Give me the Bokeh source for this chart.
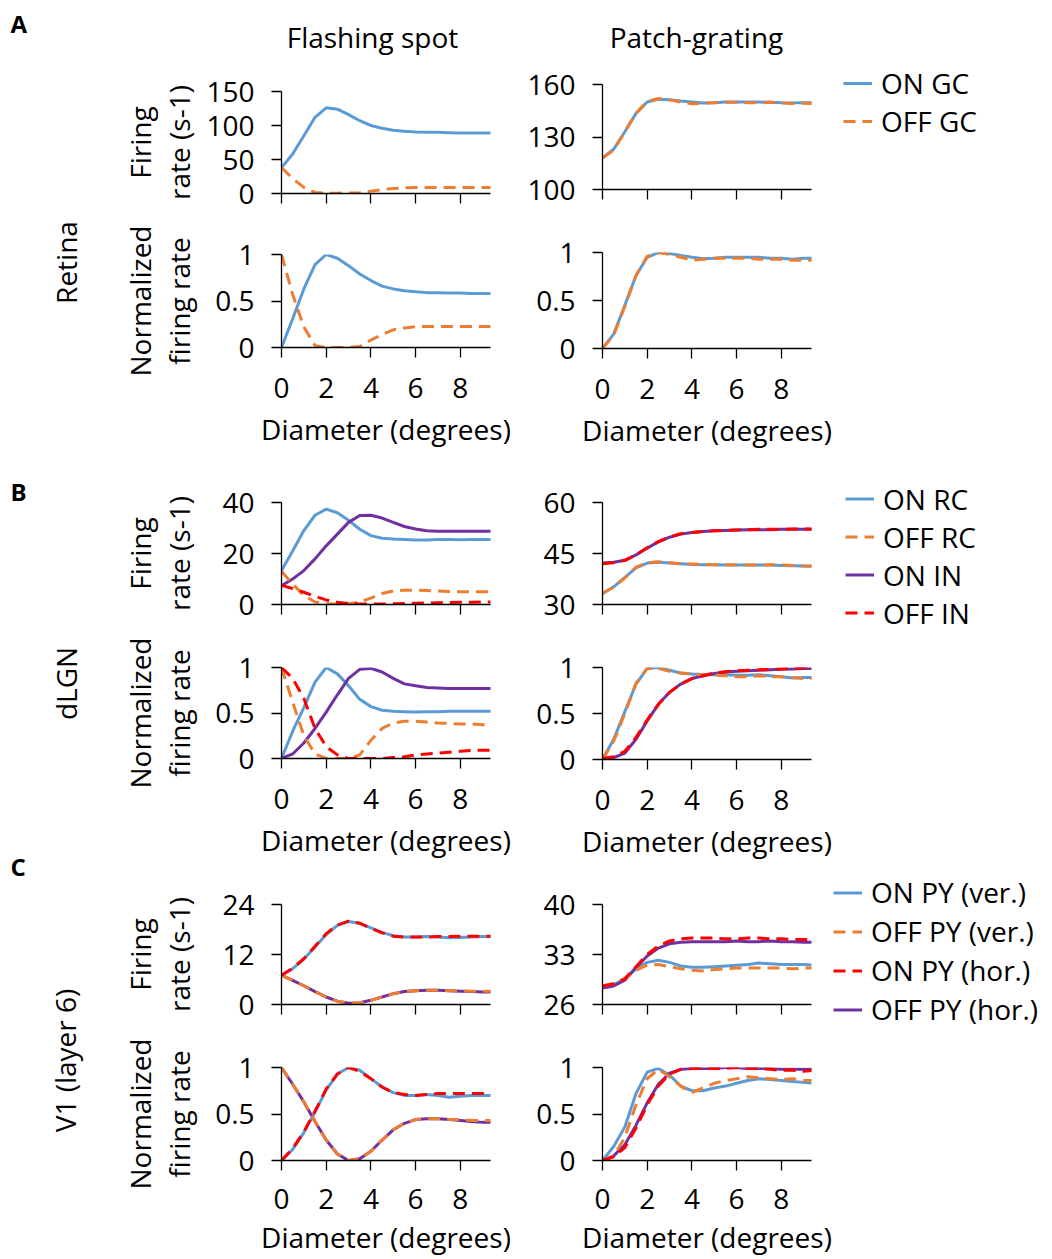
import numpy as np
from bokeh.plotting import figure
from bokeh.layouts import row, column
from bokeh.models import Range1d, FixedTicker, NumeralTickFormatter, Label, Legend, LegendItem
from bokeh.embed import file_html
from bokeh.resources import INLINE

# ------------------------------------------------------------------ data
diameter = [0.0, 0.5, 1.0, 1.5, 2.0, 2.5, 3.0, 3.5, 4.0, 4.5,
            5.0, 5.5, 6.0, 6.5, 7.0, 7.5, 8.0, 8.5, 9.0, 9.5]
x_ticks = [0, 2, 4, 6, 8]
x_label = "Diameter (degrees)"
col_titles = ["Flashing spot", "Patch-grating"]
row_names = ["Retina", "dLGN", "V1 (layer 6)"]
panel_letters = ["A", "B", "C"]
rate_label = ["Firing", "rate (s-1)"]
norm_label = ["Normalized", "firing rate"]
retina_series = ["ON GC", "OFF GC"]
lgn_series = ["ON RC", "OFF RC", "ON IN", "OFF IN"]
v1_series = ["ON PY (ver.)", "OFF PY (ver.)", "ON PY (hor.)", "OFF PY (hor.)"]

# A  Retina
retina_spot_on_rate = [38, 58, 85, 112, 126, 124, 116, 107, 100, 96, 93, 91.5, 90.5, 90, 90, 89.5, 89, 89, 89, 89]
retina_spot_off_rate = [38, 22, 9, 1.5, 0.5, 0.5, 0.8, 1.0, 3.5, 5.7, 7.5, 8.3, 9, 9, 9, 9, 9, 9, 9, 9]
retina_spot_on_norm = [0, 0.31, 0.63, 0.89, 1.0, 0.96, 0.88, 0.79, 0.72, 0.66, 0.63, 0.61, 0.6, 0.59, 0.59, 0.585, 0.585, 0.58, 0.58, 0.58]
retina_spot_off_norm = [1.0, 0.57, 0.22, 0.02, 0, 0, 0, 0.01, 0.08, 0.14, 0.19, 0.21, 0.225, 0.225, 0.225, 0.225, 0.225, 0.225, 0.225, 0.225]
retina_grating_on_rate = [118, 123, 133, 143.5, 150, 151.6, 151.3, 150.6, 150, 149.4, 149.6, 150, 150, 150, 150, 149.8, 149.6, 149.5, 149.6, 149.6]
retina_grating_off_rate = [118, 122.5, 133, 143.5, 150.3, 152, 151.2, 150, 149, 149.3, 149.6, 149.8, 149.8, 149.6, 149.5, 149.8, 149.4, 149.2, 149.3, 149]
retina_grating_on_norm = [0, 0.15, 0.45, 0.76, 0.95, 1.0, 0.99, 0.97, 0.95, 0.935, 0.94, 0.95, 0.95, 0.95, 0.95, 0.94, 0.94, 0.93, 0.94, 0.94]
retina_grating_off_norm = [0, 0.14, 0.44, 0.76, 0.96, 1.0, 0.98, 0.95, 0.92, 0.93, 0.94, 0.94, 0.94, 0.94, 0.93, 0.93, 0.93, 0.92, 0.92, 0.92]

# B  dLGN
lgn_spot_on_rc_rate = [13.3, 21, 29, 35, 37.4, 36, 33, 29.5, 27, 26, 25.7, 25.5, 25.3, 25.3, 25.5, 25.5, 25.4, 25.5, 25.5, 25.5]
lgn_spot_off_rc_rate = [13, 8, 3.5, 1, 0.3, 0.2, 0.3, 1, 2.5, 4.3, 5.3, 5.6, 5.6, 5.5, 5.3, 5.1, 5, 5, 5, 5]
lgn_spot_on_in_rate = [7.4, 10, 13.3, 17.9, 23, 27.6, 32.2, 34.9, 35.0, 33.9, 32.2, 30.6, 29.6, 28.9, 28.7, 28.7, 28.7, 28.7, 28.7, 28.7]
lgn_spot_off_in_rate = [7.5, 6.3, 4.8, 3.2, 1.8, 0.9, 0.4, 0.2, 0.2, 0.2, 0.3, 0.4, 0.5, 0.6, 0.7, 0.8, 0.9, 0.9, 1.0, 1.0]
lgn_spot_on_rc_norm = [0, 0.3, 0.56, 0.84, 1.0, 0.93, 0.8, 0.65, 0.57, 0.53, 0.52, 0.515, 0.51, 0.515, 0.515, 0.52, 0.52, 0.52, 0.52, 0.52]
lgn_spot_off_rc_norm = [1, 0.62, 0.25, 0.05, 0, 0, 0, 0.04, 0.2, 0.33, 0.39, 0.41, 0.41, 0.4, 0.39, 0.385, 0.38, 0.38, 0.37, 0.37]
lgn_spot_on_in_norm = [0, 0.05, 0.17, 0.33, 0.51, 0.7, 0.88, 0.98, 0.99, 0.95, 0.88, 0.82, 0.8, 0.78, 0.775, 0.77, 0.77, 0.77, 0.77, 0.77]
lgn_spot_off_in_norm = [1, 0.88, 0.66, 0.33, 0.13, 0.04, 0, 0, 0, 0, 0.01, 0.02, 0.04, 0.05, 0.06, 0.07, 0.08, 0.09, 0.09, 0.09]
lgn_grating_on_rc_rate = [33.2, 35.2, 38.0, 40.8, 42.2, 42.4, 42.2, 42.0, 41.8, 41.7, 41.7, 41.6, 41.6, 41.6, 41.6, 41.6, 41.5, 41.4, 41.3, 41.3]
lgn_grating_off_rc_rate = [33.3, 35.1, 37.8, 41.0, 42.3, 42.6, 42.3, 42.0, 41.9, 41.8, 41.7, 41.7, 41.6, 41.6, 41.6, 41.7, 41.6, 41.5, 41.3, 41.2]
lgn_grating_on_in_rate = [42.2, 42.4, 43.0, 44.6, 46.6, 48.4, 49.8, 50.7, 51.2, 51.5, 51.7, 51.8, 51.9, 52.0, 52.0, 52.0, 52.1, 52.1, 52.1, 52.1]
lgn_grating_off_in_rate = [42.0, 42.3, 43.0, 44.6, 46.7, 48.5, 49.9, 50.8, 51.2, 51.5, 51.7, 51.8, 51.9, 52.0, 52.1, 52.1, 52.1, 52.2, 52.2, 52.2]
lgn_grating_on_rc_norm = [0, 0.22, 0.52, 0.82, 0.99, 1.0, 0.97, 0.94, 0.93, 0.925, 0.92, 0.92, 0.915, 0.915, 0.92, 0.91, 0.9, 0.885, 0.89, 0.89]
lgn_grating_off_rc_norm = [0, 0.2, 0.5, 0.83, 0.99, 0.99, 0.96, 0.94, 0.93, 0.92, 0.92, 0.91, 0.9, 0.9, 0.91, 0.9, 0.9, 0.89, 0.88, 0.88]
lgn_grating_on_in_norm = [0, 0.02, 0.07, 0.22, 0.42, 0.6, 0.73, 0.82, 0.88, 0.91, 0.935, 0.95, 0.96, 0.965, 0.97, 0.975, 0.98, 0.985, 0.99, 0.99]
lgn_grating_off_in_norm = [0.01, 0.03, 0.09, 0.24, 0.43, 0.6, 0.73, 0.82, 0.88, 0.91, 0.94, 0.955, 0.965, 0.97, 0.975, 0.98, 0.985, 0.99, 1.0, 0.995]

# C  V1 (layer 6)
v1_spot_on_ver_rate = [7, 8.6, 10.9, 13.8, 16.8, 19.0, 19.9, 19.5, 18.4, 17.3, 16.5, 16.2, 16.2, 16.3, 16.2, 16.0, 16.1, 16.2, 16.3, 16.3]
v1_spot_off_ver_rate = [7, 5.8, 4.5, 3.1, 1.8, 0.8, 0.3, 0.4, 1.0, 1.8, 2.6, 3.1, 3.3, 3.4, 3.4, 3.3, 3.3, 3.2, 3.2, 3.2]
v1_spot_on_hor_rate = [7, 8.7, 11.0, 14.0, 17.0, 19.1, 20.0, 19.5, 18.3, 17.2, 16.4, 16.2, 16.2, 16.2, 16.3, 16.3, 16.4, 16.4, 16.4, 16.4]
v1_spot_off_hor_rate = [7, 5.8, 4.5, 3.1, 1.8, 0.8, 0.3, 0.4, 1.0, 1.8, 2.6, 3.1, 3.3, 3.4, 3.4, 3.3, 3.2, 3.1, 3.0, 3.0]
v1_spot_on_ver_norm = [0, 0.12, 0.3, 0.52, 0.76, 0.93, 1.0, 0.97, 0.88, 0.79, 0.73, 0.7, 0.7, 0.71, 0.7, 0.68, 0.69, 0.7, 0.7, 0.7]
v1_spot_off_ver_norm = [1, 0.82, 0.63, 0.42, 0.22, 0.07, 0, 0.02, 0.1, 0.22, 0.33, 0.4, 0.44, 0.45, 0.45, 0.44, 0.44, 0.43, 0.43, 0.43]
v1_spot_on_hor_norm = [0, 0.13, 0.31, 0.53, 0.77, 0.93, 1.0, 0.96, 0.88, 0.79, 0.73, 0.71, 0.7, 0.71, 0.72, 0.72, 0.72, 0.72, 0.72, 0.72]
v1_spot_off_hor_norm = [1, 0.82, 0.63, 0.42, 0.22, 0.07, 0, 0.02, 0.1, 0.22, 0.33, 0.4, 0.44, 0.45, 0.45, 0.44, 0.43, 0.42, 0.41, 0.41]
v1_grating_on_ver_rate = [28.5, 28.8, 29.6, 31.0, 31.9, 32.2, 31.9, 31.4, 31.2, 31.2, 31.3, 31.4, 31.5, 31.6, 31.8, 31.7, 31.6, 31.6, 31.6, 31.5]
v1_grating_off_ver_rate = [28.6, 28.9, 29.6, 30.8, 31.5, 31.6, 31.3, 31.0, 30.8, 30.7, 30.9, 31.0, 31.1, 31.1, 31.1, 31.1, 31.1, 31.0, 31.1, 31.1]
v1_grating_on_hor_rate = [28.6, 28.9, 29.6, 31.3, 33.0, 34.2, 34.9, 35.2, 35.3, 35.3, 35.3, 35.2, 35.2, 35.3, 35.3, 35.2, 35.2, 35.1, 35.1, 35.0]
v1_grating_off_hor_rate = [28.3, 28.6, 29.4, 31.2, 32.8, 33.9, 34.5, 34.7, 34.8, 34.8, 34.8, 34.8, 34.9, 34.8, 34.8, 34.9, 34.8, 34.8, 34.7, 34.7]
v1_grating_on_ver_norm = [0, 0.15, 0.36, 0.72, 0.95, 0.99, 0.92, 0.8, 0.75, 0.75, 0.78, 0.8, 0.83, 0.86, 0.88, 0.87, 0.86, 0.85, 0.84, 0.83]
v1_grating_off_ver_norm = [0, 0.05, 0.25, 0.6, 0.88, 0.98, 0.9, 0.8, 0.73, 0.78, 0.83, 0.86, 0.88, 0.9, 0.89, 0.88, 0.87, 0.88, 0.86, 0.86]
v1_grating_on_hor_norm = [0, 0.04, 0.14, 0.35, 0.6, 0.8, 0.93, 0.98, 0.99, 0.99, 0.99, 0.99, 1.0, 0.99, 0.99, 0.98, 0.97, 0.97, 0.96, 0.97]
v1_grating_off_hor_norm = [0, 0.05, 0.17, 0.38, 0.62, 0.82, 0.94, 0.98, 0.99, 0.99, 0.99, 1.0, 1.0, 0.99, 0.99, 0.99, 0.98, 0.98, 0.98, 0.98]

# y axes
retina_spot_rate_ticks = [0, 50, 100, 150]
retina_grating_rate_ticks = [100, 130, 160]
lgn_spot_rate_ticks = [0, 20, 40]
lgn_grating_rate_ticks = [30, 45, 60]
v1_spot_rate_ticks = [0, 12, 24]
v1_grating_rate_ticks = [26, 33, 40]
norm_ticks = [0, 0.5, 1]

# ------------------------------------------------------------------ styles / layout
FONT = "Open Sans"
FS = "28px"
BLUE, ORANGE, PURPLE, RED = "#5B9BD5", "#ED7D31", "#7030A0", "#FF0000"
DASH = "12 7"
STYLE = {
    "ON GC": (BLUE, None), "OFF GC": (ORANGE, DASH),
    "ON RC": (BLUE, None), "OFF RC": (ORANGE, DASH),
    "ON IN": (PURPLE, None), "OFF IN": (RED, DASH),
    "ON PY (ver.)": (BLUE, None), "OFF PY (ver.)": (ORANGE, DASH),
    "ON PY (hor.)": (RED, DASH), "OFF PY (hor.)": (PURPLE, None),
}
XMAX = 9.35
FRAME_W = 209
HEAD_H = 60
TOTAL_H = 1258
LAB_W = 200
LEG_X0 = 833
COLS = {"L": (200, 281, 315), "R": (515, 602, LEG_X0 - 515)}   # figure left, frame left, figure width
ROWS = [(HEAD_H, 215), (215, 465), (465, 636), (636, 870), (870, 1030), (1030, TOTAL_H)]
FRAMES = {
    "L": [(91, 193), (254, 347), (502, 604), (667, 758), (904, 1004), (1067, 1160)],
    "R": [(84, 189), (252, 348), (502, 604), (667, 759), (904, 1004), (1067, 1160)],
}
XSTAND = {1: (20, 9), 3: (20, 9), 5: (18, 6)}   # tick-label / axis-label standoff
LEGENDS = [  # series, swatch left x, first row centre y, row pitch
    (retina_series, 843, 83, 38),
    (lgn_series, 845, 502, 37),
    (v1_series, 833, 892, 39),
]


def text_fig(w, h, x_left, y_top):
    f = figure(width=w, height=h, x_range=Range1d(x_left, x_left + w),
               y_range=Range1d(y_top + h, y_top),
               min_border_left=0, min_border_right=0, min_border_top=0, min_border_bottom=0,
               x_axis_type=None, y_axis_type=None, output_backend="svg",
               toolbar_location=None, tools="")
    f.outline_line_color = None
    f.background_fill_color = "white"
    f.border_fill_color = "white"
    return f


def add_text(f, x, y, text, size=FS, bold=False, align="center", rotate=False):
    f.add_layout(Label(x=x, y=y, text=text, text_font=FONT, text_font_size=size,
                       text_font_style="bold" if bold else "normal",
                       text_align=align, text_baseline="middle", text_color="black",
                       angle=1.5707963 if rotate else 0))


def build(col, r, yr, yticks, fmt, series, show_x):
    fx0, fl, w = COLS[col]
    top, bot = ROWS[r]
    ft, fb = FRAMES[col][r]
    y0, y1 = yr
    bl = fl - fx0
    br = w - bl - FRAME_W
    p = figure(width=w, height=bot - top,
               min_border_left=bl, min_border_right=br,
               min_border_top=ft - top, min_border_bottom=bot - fb,
               x_range=Range1d(0, XMAX), y_range=Range1d(y0, y1),
               output_backend="svg", toolbar_location=None, tools="")
    p.outline_line_color = None
    p.xgrid.visible = False
    p.ygrid.visible = False
    p.background_fill_color = "white"
    p.border_fill_color = "white"

    xa, ya = p.xaxis[0], p.yaxis[0]
    for ax in (xa, ya):
        ax.axis_line_color = "black"
        ax.axis_line_width = 1.3
        ax.major_tick_line_color = "black"
        ax.major_tick_line_width = 1.3
        ax.major_tick_out = 10
        ax.major_tick_in = 0
        ax.minor_tick_out = 0
        ax.minor_tick_in = 0
        ax.major_label_text_font = FONT
        ax.major_label_text_font_size = FS
        ax.major_label_text_color = "black"
    xa.ticker = FixedTicker(ticks=x_ticks, minor_ticks=[])
    ya.ticker = FixedTicker(ticks=yticks, minor_ticks=[])
    ya.formatter = NumeralTickFormatter(format=fmt)
    ya.major_label_standoff = 17
    if show_x:
        s_tick, s_lab = XSTAND[r]
        xa.major_label_standoff = s_tick
        xa.axis_label = x_label
        xa.axis_label_text_font = FONT
        xa.axis_label_text_font_size = FS
        xa.axis_label_text_font_style = "normal"
        xa.axis_label_text_color = "black"
        xa.axis_label_standoff = s_lab
    else:
        xa.major_label_standoff = 0
        xa.major_label_text_font_size = "0px"
        xa.major_label_overrides = {t: "" for t in x_ticks}

    solid = [s for s in series if STYLE[s[0]][1] is None]
    dashed = [s for s in series if STYLE[s[0]][1] is not None]
    for name, vals in solid + dashed:
        color, dash = STYLE[name]
        p.line(diameter, vals, line_color=color, line_width=3,
               line_dash=dash if dash else "solid")
    return p


left = [
    build("L", 0, (0, 150), retina_spot_rate_ticks, "0",
          list(zip(retina_series, [retina_spot_on_rate, retina_spot_off_rate])), False),
    build("L", 1, (0, 1), norm_ticks, "0.[0]",
          list(zip(retina_series, [retina_spot_on_norm, retina_spot_off_norm])), True),
    build("L", 2, (0, 40), lgn_spot_rate_ticks, "0",
          list(zip(lgn_series, [lgn_spot_on_rc_rate, lgn_spot_off_rc_rate,
                                lgn_spot_on_in_rate, lgn_spot_off_in_rate])), False),
    build("L", 3, (0, 1), norm_ticks, "0.[0]",
          list(zip(lgn_series, [lgn_spot_on_rc_norm, lgn_spot_off_rc_norm,
                                lgn_spot_on_in_norm, lgn_spot_off_in_norm])), True),
    build("L", 4, (0, 24), v1_spot_rate_ticks, "0",
          list(zip(v1_series, [v1_spot_on_ver_rate, v1_spot_off_ver_rate,
                               v1_spot_on_hor_rate, v1_spot_off_hor_rate])), False),
    build("L", 5, (0, 1), norm_ticks, "0.[0]",
          list(zip(v1_series, [v1_spot_on_ver_norm, v1_spot_off_ver_norm,
                               v1_spot_on_hor_norm, v1_spot_off_hor_norm])), True),
]

right = [
    build("R", 0, (100, 160), retina_grating_rate_ticks, "0",
          list(zip(retina_series, [retina_grating_on_rate, retina_grating_off_rate])), False),
    build("R", 1, (0, 1), norm_ticks, "0.[0]",
          list(zip(retina_series, [retina_grating_on_norm, retina_grating_off_norm])), True),
    build("R", 2, (30, 60), lgn_grating_rate_ticks, "0",
          list(zip(lgn_series, [lgn_grating_on_rc_rate, lgn_grating_off_rc_rate,
                                lgn_grating_on_in_rate, lgn_grating_off_in_rate])), False),
    build("R", 3, (0, 1), norm_ticks, "0.[0]",
          list(zip(lgn_series, [lgn_grating_on_rc_norm, lgn_grating_off_rc_norm,
                                lgn_grating_on_in_norm, lgn_grating_off_in_norm])), True),
    build("R", 4, (26, 40), v1_grating_rate_ticks, "0",
          list(zip(v1_series, [v1_grating_on_ver_rate, v1_grating_off_ver_rate,
                               v1_grating_on_hor_rate, v1_grating_off_hor_rate])), False),
    build("R", 5, (0, 1), norm_ticks, "0.[0]",
          list(zip(v1_series, [v1_grating_on_ver_norm, v1_grating_off_ver_norm,
                               v1_grating_on_hor_norm, v1_grating_off_hor_norm])), True),
]

# header: panel letter A and column titles
header = text_fig(1050, HEAD_H, 0, 0)
add_text(header, 10, 23, panel_letters[0], size="24px", bold=True, align="left")
add_text(header, 372, 36, col_titles[0])
add_text(header, 696, 36, col_titles[1])

# left strip: letters B, C, row names, y-axis titles
strip = text_fig(LAB_W, TOTAL_H - HEAD_H, 0, HEAD_H)
add_text(strip, 10, 491, panel_letters[1], size="24px", bold=True, align="left")
add_text(strip, 10, 866, panel_letters[2], size="24px", bold=True, align="left")
for name, cx, cy in zip(row_names, (65, 65, 64), (262, 683, 1060)):
    add_text(strip, cx, cy, name, rotate=True)
for i, (ft, fb) in enumerate(FRAMES["L"]):
    lines = rate_label if i % 2 == 0 else norm_label
    mid = (ft + fb) / 2
    add_text(strip, 139, mid, lines[0], rotate=True)
    add_text(strip, 178, mid, lines[1], rotate=True)

# legend column (one legend per region; swatch renderers carry no visible points)
legfig = text_fig(1050 - LEG_X0, TOTAL_H - HEAD_H, LEG_X0, HEAD_H)
no_point = np.array([np.nan, np.nan])
for names, gx, first_cy, pitch in LEGENDS:
    items = []
    for nm in names:
        color, dash = STYLE[nm]
        rr = legfig.line(x=no_point, y=no_point, line_color=color, line_width=3,
                         line_dash=dash if dash else "solid")
        items.append(LegendItem(label=nm, renderers=[rr]))
    bottom = first_cy - pitch / 2 + len(names) * pitch
    legfig.add_layout(Legend(items=items, location=(gx - LEG_X0, TOTAL_H - bottom),
                             orientation="vertical", padding=0, spacing=0, margin=0,
                             glyph_width=29, glyph_height=int(pitch), label_height=int(pitch),
                             label_standoff=9, label_text_font=FONT, label_text_font_size=FS,
                             label_text_color="black",
                             border_line_alpha=0, background_fill_alpha=0))

layout = column(header, row(strip, column(*left), column(*right), legfig))
open("out.html", "w").write(file_html(layout, INLINE))
